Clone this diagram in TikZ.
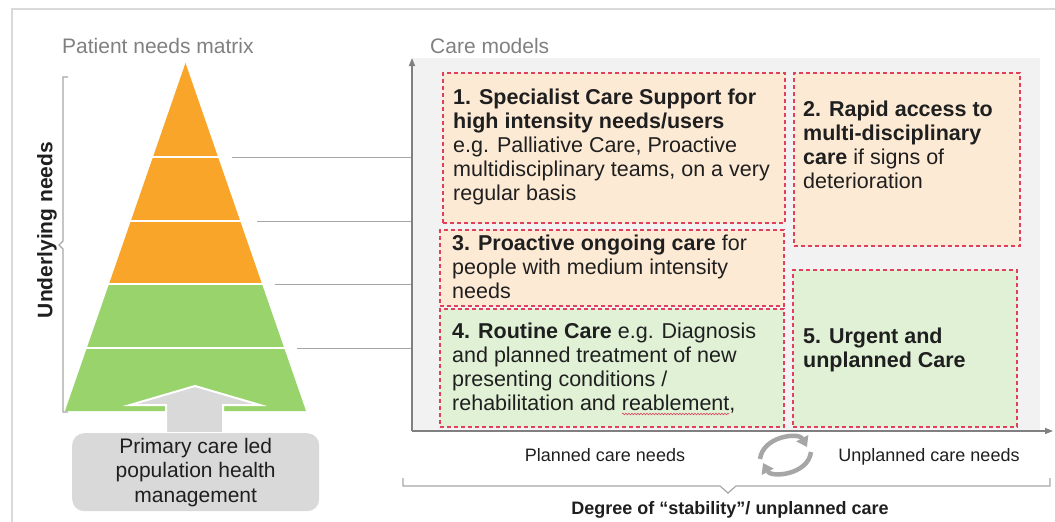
\documentclass[tikz,border=0pt]{standalone}
\usepackage{fontspec}
\setmainfont{Liberation Sans}
\usetikzlibrary{arrows.meta,decorations.pathmorphing}
\definecolor{pyrorange}{HTML}{F8A52A}
\definecolor{pyrgreen}{HTML}{98D46B}
\definecolor{peach}{HTML}{FDEAD5}
\definecolor{mint}{HTML}{E0F1D6}
\definecolor{dashred}{HTML}{E0405A}
\definecolor{panelgray}{HTML}{F2F2F2}
\definecolor{boxgray}{HTML}{D9D9D9}
\definecolor{linegray}{HTML}{A6A6A6}
\definecolor{titlegray}{HTML}{808080}
\definecolor{inkdark}{HTML}{1F1F1F}

\begin{document}
\begin{tikzpicture}[
        x=1pt, y=-1pt,
        axis/.style={-{Triangle[length=8pt,width=6pt]}, line width=1.5pt, titlegray},
        guide/.style={linegray, line width=0.8pt},
        band/.style={white, line width=2pt},
        title/.style={font=\fontsize{21}{24}\selectfont, text=titlegray, inner sep=0pt, anchor=base west},
        carebox/.style={draw=dashred, dash pattern=on 4pt off 3pt, line width=1.5pt, inner sep=0pt, anchor=north west},
        caretext/.style={font=\fontsize{21.5}{24}\selectfont, text=inkdark, align=left, inner sep=0pt, anchor=base west},
        axislabel/.style={font=\fontsize{18}{22}\selectfont, text=inkdark, inner sep=0pt, anchor=base},
        cyclearrow/.style={linegray, line width=4.5pt, -{Triangle[length=10pt,width=13pt]}}
      ]
        \useasboundingbox (0,0) rectangle (1055,522);

% Frame
        \draw[boxgray, line width=2pt] (12,522) -- (12,9) -- (1055,9);

% Titles
        \node[title] (pnm) at (62,53) {Patient needs matrix};
        \node[title] (cm) at (430,53) {Care models};

% Panel and axes
        \fill[panelgray] (413,58) rectangle (1040,430);
        \coordinate (origin) at (412,431);
        \draw[axis] (origin) -- (412,58);
        \draw[axis] (origin) -- (1053,431);

% Pyramid
        \fill[pyrorange] (185.5,63) -- (262,284) -- (109,284) -- cycle;
        \fill[pyrgreen] (109,284) -- (262,284) -- (306,411) -- (65,411) -- cycle;
        \draw[band] (152,157) -- (219,157);
        \draw[band] (130,221) -- (241,221);
        \draw[band] (108,284) -- (263,284);
        \draw[band] (86,348) -- (285,348);

% Level guides
        \foreach \y/\x in {157/232, 221/257, 284/275, 348/297}
          \draw[guide] (\x,\y) -- (411,\y);

% Underlying needs bracket
        \draw[linegray, line width=1.2pt] (68,77) -- (63,77) -- (63,241) -- (59,245)
          -- (63,249) -- (63,412) -- (68,412);
        \node[font=\bfseries\fontsize{21}{24}\selectfont, text=inkdark, rotate=90] (un) at (47,230) {Underlying needs};

% Primary care
        \filldraw[fill=boxgray, draw=white, line width=2pt] (195,386) -- (260,405) -- (223,405)
          -- (223,433) -- (166,433) -- (166,405) -- (130,405) -- cycle;
        \node[fill=boxgray, rounded corners=12pt, minimum width=247pt, minimum height=78pt,
          anchor=north west, inner sep=0pt, align=center, text=inkdark,
          font=\fontsize{21}{24.5}\selectfont] (pc) at (72,433)
          {Primary care led\\population health\\management};

% Care model boxes (text placed at the baseline of its last line)
        \node[carebox, fill=peach, minimum width=342pt, minimum height=150pt] (b1) at (442,72) {};
        \node[carebox, fill=peach, minimum width=226pt, minimum height=173pt] (b2) at (793,72) {};
        \node[carebox, fill=peach, minimum width=344pt, minimum height=76pt] (b3) at (439,229) {};
        \node[carebox, fill=mint, minimum width=344pt, minimum height=118pt] (b4) at (439,308) {};
        \node[carebox, fill=mint, minimum width=224pt, minimum height=157pt] (b5) at (792,269) {};

        \node[caretext] (t1) at (453,200)
          {\textbf{1. Specialist Care Support for}\\\textbf{high intensity needs/users}\\
           e.g. Palliative Care, Proactive\\multidisciplinary teams, on a very\\regular basis};
        \node[caretext] (t2) at (803,188)
          {\textbf{2. Rapid access to}\\\textbf{multi-disciplinary}\\\textbf{care} if signs of\\deterioration};
        \node[caretext] (t3) at (452,298)
          {\textbf{3. Proactive ongoing care} for\\people with medium intensity\\needs};
        \node[caretext] (t4) at (452,410)
          {\textbf{4. Routine Care} e.g. Diagnosis\\and planned treatment of new\\
           presenting conditions /\\rehabilitation and reablement,};
        \node[caretext] (t5) at (803,367)
          {\textbf{5. Urgent and}\\\textbf{unplanned Care}};
        \draw[dashred, line width=0.6pt, decorate, decoration={snake, amplitude=0.8pt, segment length=3pt}]
          (622,414) -- (729,414);

% Horizontal axis labels
        \node[axislabel] (pl) at (605,461) {Planned care needs};
        \node[axislabel] (upl) at (929,461) {Unplanned care needs};
        \draw[cyclearrow] (760,459) .. controls (763,436) and (799,432) .. (807,447);
        \draw[cyclearrow] (811,452) .. controls (808,475) and (771,478) .. (763,463);

% Stability bracket
        \draw[linegray, line width=1.2pt] (403,478) -- (403,486) -- (720,486) -- (728,493)
          -- (736,486) -- (1050,486) -- (1050,478);
        \node[axislabel, font=\bfseries\fontsize{18}{22}\selectfont] (deg) at (730,514)
          {Degree of “stability”/ unplanned care};

      \end{tikzpicture}
\end{document}
